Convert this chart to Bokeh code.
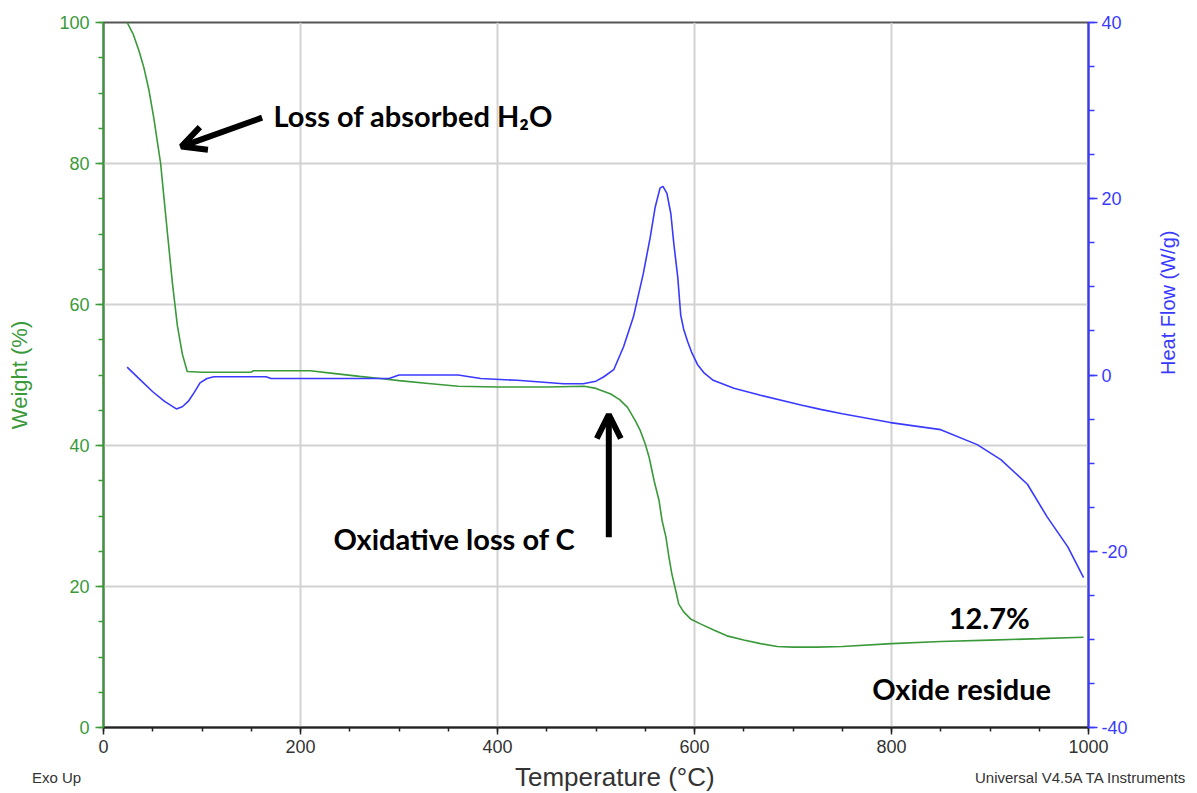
import math
from bokeh.plotting import figure
from bokeh.layouts import column
from bokeh.models import (Range1d, LinearAxis, FixedTicker, Label, Arrow, OpenHead,
                          PrintfTickFormatter, Div)
from bokeh.embed import file_html
from bokeh.resources import INLINE

# ---- data ----
temp_w = [24, 30, 36, 41, 46, 51, 55, 58, 61, 65, 70, 75, 80, 85, 100, 150, 152, 210,
          235, 260, 281, 300, 330, 360, 400, 450, 488, 500, 515, 524, 532, 540, 545, 550,
          554, 559, 564, 567, 571, 574, 577, 581, 584, 589, 596, 606, 620, 633, 650, 667,
          684, 700, 725, 750, 800, 850, 900, 950, 995]
weight = [100, 98.4, 96.0, 93.6, 90.5, 86.5, 82.8, 80.0, 75.7, 70.0, 63.0, 57.0, 53.0,
          50.5, 50.4, 50.4, 50.6, 50.6, 50.2, 49.8, 49.5, 49.2, 48.8, 48.4, 48.3, 48.3,
          48.4, 48.1, 47.3, 46.5, 45.4, 43.5, 42.1, 40.2, 38.3, 35.0, 32.2, 29.4, 27.0,
          24.2, 21.8, 19.4, 17.5, 16.4, 15.4, 14.7, 13.8, 13.0, 12.4, 11.9, 11.5, 11.4,
          11.4, 11.5, 11.9, 12.2, 12.4, 12.6, 12.8]

temp_h = [24, 35, 50, 62, 74, 80, 86, 92, 98, 105, 112, 125, 165, 170, 290, 300, 360,
          383, 420, 467, 487, 500, 508, 518, 528, 538, 548, 555, 560, 565, 568, 572, 576,
          579, 583, 586, 589, 593, 597, 603, 610, 619, 640, 667, 708, 728, 750, 799, 850,
          887, 911, 938, 958, 979, 995]
heat = [0.9, -0.3, -1.9, -3.0, -3.85, -3.6, -3.0, -2.0, -0.9, -0.4, -0.2, -0.2, -0.2,
        -0.4, -0.4, 0.0, 0.0, -0.4, -0.6, -1.0, -1.0, -0.7, -0.2, 0.6, 3.2, 6.6, 11.5,
        15.6, 19.0, 21.2, 21.4, 20.6, 18.3, 14.9, 11.1, 6.8, 5.2, 3.8, 2.6, 1.2, 0.2,
        -0.6, -1.5, -2.3, -3.4, -3.9, -4.4, -5.4, -6.2, -7.9, -9.6, -12.4, -16.1, -19.5,
        -23.0]

x_ticks = [0, 200, 400, 600, 800, 1000]
x_minor = list(range(0, 1001, 50))
w_ticks = [0, 20, 40, 60, 80, 100]
w_minor = list(range(0, 101, 5))
h_ticks = [-40, -20, 0, 20, 40]
h_minor = list(range(-40, 41, 5))

# annotations (data coordinates)
arrow1 = dict(x_start=161, y_start=86.5, x_end=79, y_end=82.4)
arrow2 = dict(x_start=513, y_start=27.0, x_end=513, y_end=44.4)
notes = [
    ("Loss of absorbed H\u2082O", 172.5, 86.8),
    ("Oxidative loss of C", 233.5, 26.8),
    ("12.7%", 858, 15.6),
    ("Oxide residue", 780.5, 5.5),
]
x_title = "Temperature (\u00b0C)"
footer_left = "Exo Up"
footer_right = "Universal V4.5A TA Instruments"

GREEN = "#3a9a3a"
BLUE = "#3a3aff"
TICK_FONT = "Liberation Sans"

p = figure(width=1197, height=762, output_backend="svg", toolbar_location=None,
           x_range=Range1d(0, 1000), y_range=Range1d(0, 100),
           min_border_left=103, min_border_right=109, min_border_top=22,
           min_border_bottom=35)
p.extra_y_ranges = {"hf": Range1d(-40, 40)}
p.background_fill_color = "white"
p.border_fill_color = "white"
p.outline_line_color = "#555555"
p.outline_line_width = 2

# bottom axis
xa = p.xaxis[0]
xa.ticker = FixedTicker(ticks=x_ticks, minor_ticks=x_minor)
xa.major_label_text_font = TICK_FONT
xa.major_label_text_font_size = "18px"
xa.major_label_text_color = "#333333"
xa.major_label_standoff = 5
xa.axis_line_color = "#222222"
xa.axis_line_width = 2
xa.major_tick_line_color = "#222222"
xa.minor_tick_line_color = "#222222"
xa.major_tick_line_width = 1.5
xa.minor_tick_line_width = 1.5
xa.major_tick_in = 0
xa.major_tick_out = 7
xa.minor_tick_in = 0
xa.minor_tick_out = 4

# left axis (weight)
ya = p.yaxis[0]
ya.ticker = FixedTicker(ticks=w_ticks, minor_ticks=w_minor)
ya.axis_label = "Weight (%)"
ya.axis_label_text_font = TICK_FONT
ya.axis_label_text_font_size = "22px"
ya.axis_label_text_font_style = "normal"
ya.axis_label_text_color = GREEN
ya.axis_label_standoff = 24
ya.major_label_text_font = TICK_FONT
ya.major_label_text_font_size = "18px"
ya.major_label_text_color = GREEN
ya.major_label_standoff = 6
ya.axis_line_color = GREEN
ya.axis_line_width = 2
ya.major_tick_line_color = GREEN
ya.minor_tick_line_color = GREEN
ya.major_tick_line_width = 1.5
ya.minor_tick_line_width = 1.5
ya.major_tick_in = 0
ya.major_tick_out = 8
ya.minor_tick_in = 0
ya.minor_tick_out = 5

# right axis (heat flow)
ra = LinearAxis(y_range_name="hf",
                ticker=FixedTicker(ticks=h_ticks, minor_ticks=h_minor),
                formatter=PrintfTickFormatter(format="%d"))
ra.axis_label = "Heat Flow (W/g)"
ra.axis_label_orientation = math.pi / 2
ra.axis_label_text_font = TICK_FONT
ra.axis_label_text_font_size = "20px"
ra.axis_label_text_font_style = "normal"
ra.axis_label_text_color = BLUE
ra.axis_label_standoff = 37
ra.major_label_text_font = TICK_FONT
ra.major_label_text_font_size = "18px"
ra.major_label_text_color = BLUE
ra.major_label_standoff = 4
ra.axis_line_color = BLUE
ra.axis_line_width = 2
ra.major_tick_line_color = BLUE
ra.minor_tick_line_color = BLUE
ra.major_tick_line_width = 1.5
ra.minor_tick_line_width = 1.5
ra.major_tick_in = 0
ra.major_tick_out = 9
ra.minor_tick_in = 0
ra.minor_tick_out = 6
p.add_layout(ra, "right")

# grid
p.xgrid.grid_line_color = "#d2d2d2"
p.xgrid.grid_line_width = 2
p.ygrid.grid_line_color = "#d2d2d2"
p.ygrid.grid_line_width = 2

# curves
p.line(temp_w, weight, line_color=GREEN, line_width=1.6)
p.line(temp_h, heat, line_color=BLUE, line_width=1.6, y_range_name="hf")

# arrows
for a in (arrow1, arrow2):
    p.add_layout(Arrow(end=OpenHead(line_width=6, line_color="black", size=24),
                       line_width=6, line_color="black", **a))

# annotation texts
for txt, x, y in notes:
    p.add_layout(Label(x=x, y=y, text=txt, text_font="Lato", text_font_style="bold",
                       text_font_size="29px", text_color="black",
                       text_baseline="middle", text_align="left"))

# footer line: axis title and instrument notes
footer_html = (
    '<div style="position:relative;width:1197px;height:31px;overflow:hidden;'
    "font-family:'Liberation Sans',Arial,sans-serif;color:#333333;\">"
    '<span style="position:absolute;left:32px;top:8px;font-size:15px;'
    'line-height:15px;white-space:nowrap;">' + footer_left + '</span>'
    '<span style="position:absolute;left:515px;top:1px;font-size:26px;'
    'line-height:28px;white-space:nowrap;">' + x_title + '</span>'
    '<span style="position:absolute;left:975px;top:8px;font-size:15px;'
    'line-height:15px;white-space:nowrap;">' + footer_right + '</span>'
    '</div>'
)
footer = Div(text=footer_html, width=1197, height=31, margin=(0, 0, 0, 0))

layout = column(p, footer, spacing=0)
open("out.html", "w").write(file_html(layout, INLINE))
